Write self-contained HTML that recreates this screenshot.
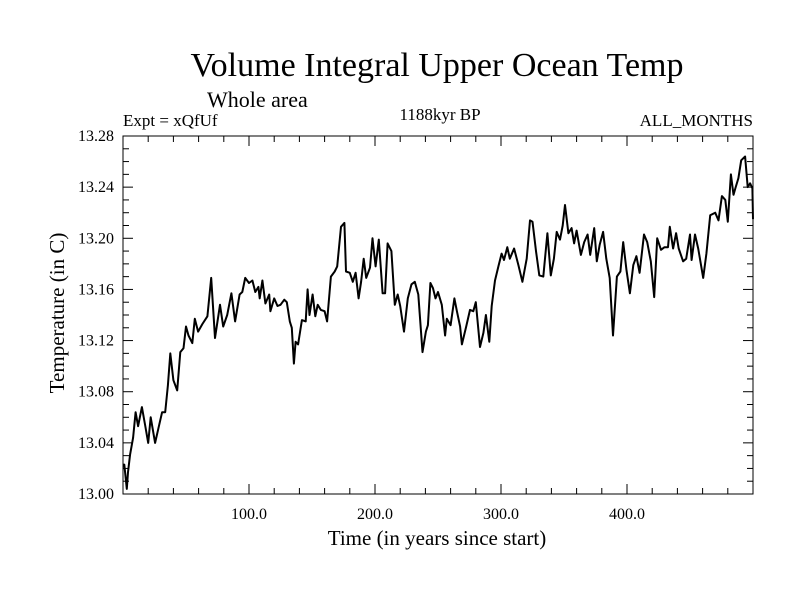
<!DOCTYPE html>
<html><head><meta charset="utf-8"><style>
body{margin:0;background:#fff;}
svg text{font-family:"Liberation Serif",serif;fill:#000;}
</style></head><body>
<svg width="800" height="600" viewBox="0 0 800 600">
<rect width="800" height="600" fill="#fff"/>
<text x="437" y="76" font-size="34" text-anchor="middle">Volume Integral Upper Ocean Temp</text>
<text x="207" y="107" font-size="22">Whole area</text>
<text x="123" y="126" font-size="17">Expt = xQfUf</text>
<text x="440" y="120" font-size="17" text-anchor="middle">1188kyr BP</text>
<text x="753" y="126" font-size="17" text-anchor="end">ALL_MONTHS</text>
<text transform="translate(64,313) rotate(-90)" font-size="21" text-anchor="middle">Temperature (in C)</text>
<text x="437" y="545" font-size="21" text-anchor="middle">Time (in years since start)</text>
<g id="axes"></g>
<path id="series" fill="none" stroke="#000" stroke-width="2" stroke-linejoin="round"/>
<rect x="123" y="136" width="630" height="358" fill="none" stroke="#000" stroke-width="1"/>
</svg>
<script>
const years=[0,1,3,4,5.6,8,10,12,15,17.5,20,22,25.5,28,31,33.5,35.6,37.5,40,43,45.5,48,50,52,55,57,59.6,63,67,70,73,77,79.5,82.7,86,89,92.5,94.7,97,100,102.7,105,107.5,108.5,110.6,113,116,117,120,122.6,125,128,130,132.4,134,135.6,137,139,142,145,146.5,148,150.5,152.6,154.5,157,160,162,165,168,170,173,175.7,177,180,182.4,184.6,187,189,191,193,196,198,200.5,203,206,208,210,213,215.7,218,220,223,226,229,231.6,234.4,237.7,240.4,242,244,246,248,250,253,255.6,257,260,263,265,267.5,269,272.4,275.4,278,280,283.3,286,288,290.7,292.6,295.2,297.9,300.5,302.4,305,307,310.4,313.8,317,320.4,323,325,327.8,330.4,333.6,336.8,339.5,342,344.2,346.8,349,350.8,353.5,356,358,360,363.4,366,368.7,370.8,374,376,378.3,381,383.6,386.3,388.9,392,394.8,397,399.6,402.3,405,407.5,410,413.5,416,418.9,421.6,424,427,429.8,432.5,434,436.6,439,441,444.5,447,450,451.3,454,456.5,460.5,463,466,470,472.6,475.3,478,480,482.5,484.5,486.3,488.4,490.6,493.7,495.8,497.7,499.5,500];
const temps=[13.023,13.023,13.004,13.017,13.031,13.044,13.064,13.053,13.068,13.054,13.040,13.060,13.040,13.051,13.064,13.064,13.085,13.110,13.089,13.081,13.111,13.114,13.131,13.124,13.118,13.137,13.127,13.133,13.139,13.169,13.122,13.148,13.131,13.140,13.157,13.135,13.156,13.158,13.169,13.165,13.167,13.158,13.162,13.153,13.167,13.149,13.156,13.143,13.153,13.147,13.148,13.152,13.150,13.135,13.130,13.102,13.119,13.117,13.136,13.135,13.160,13.140,13.156,13.139,13.148,13.144,13.143,13.135,13.170,13.174,13.178,13.209,13.212,13.174,13.173,13.166,13.173,13.153,13.166,13.184,13.169,13.177,13.200,13.178,13.199,13.157,13.157,13.196,13.190,13.148,13.156,13.147,13.127,13.153,13.164,13.166,13.156,13.111,13.127,13.132,13.165,13.161,13.153,13.158,13.148,13.124,13.137,13.132,13.153,13.143,13.131,13.117,13.131,13.144,13.143,13.150,13.115,13.126,13.140,13.119,13.147,13.167,13.178,13.188,13.183,13.193,13.184,13.192,13.179,13.166,13.184,13.214,13.213,13.190,13.171,13.170,13.204,13.171,13.184,13.205,13.199,13.210,13.226,13.204,13.208,13.196,13.206,13.187,13.197,13.203,13.187,13.208,13.182,13.195,13.205,13.184,13.169,13.124,13.170,13.174,13.197,13.175,13.157,13.179,13.186,13.173,13.203,13.197,13.182,13.154,13.200,13.191,13.193,13.193,13.209,13.192,13.204,13.192,13.182,13.184,13.203,13.183,13.203,13.192,13.169,13.188,13.218,13.220,13.214,13.233,13.230,13.213,13.250,13.234,13.240,13.247,13.261,13.264,13.240,13.243,13.239,13.215];
const xTickValues=[100,200,300,400];
const xTickLabels=["100.0","200.0","300.0","400.0"];
const yTickValues=[13.00,13.04,13.08,13.12,13.16,13.20,13.24,13.28];
const yTickLabels=["13.00","13.04","13.08","13.12","13.16","13.20","13.24","13.28"];

const X0=123,X1=753,Y0=494,Y1=136,XMIN=0,XMAX=500,YMIN=13.0,YMAX=13.28;
const xs=v=>X0+(v-XMIN)/(XMAX-XMIN)*(X1-X0);
const ys=v=>Y0-(v-YMIN)/(YMAX-YMIN)*(Y0-Y1);
const NS="http://www.w3.org/2000/svg";
const axes=document.getElementById('axes');
function line(x1,y1,x2,y2){const l=document.createElementNS(NS,'line');l.setAttribute('x1',x1);l.setAttribute('y1',y1);l.setAttribute('x2',x2);l.setAttribute('y2',y2);l.setAttribute('stroke','#000');l.setAttribute('stroke-width','1');axes.appendChild(l);return l;}
for(let v=20;v<XMAX;v+=20){const big=v%100===0;const L=big?10:6;
let a=line(xs(v),Y0,xs(v),Y0-L);
let b=line(xs(v),Y1,xs(v),Y1+L);}
for(let i=0;i<=28;i++){const v=YMIN+i*0.01;const big=i%4===0;const L=big?10:6;
let a=line(X0,ys(v),X0+L,ys(v));
let b=line(X1,ys(v),X1-L,ys(v));}
xTickValues.forEach((v,i)=>{const t=document.createElementNS(NS,'text');t.setAttribute('x',xs(v));t.setAttribute('y',519);t.setAttribute('font-size','16');t.setAttribute('text-anchor','middle');t.textContent=xTickLabels[i];


axes.appendChild(t);});
yTickValues.forEach((v,i)=>{const t=document.createElementNS(NS,'text');t.setAttribute('x',114);t.setAttribute('y',ys(v)+5);t.setAttribute('font-size','16');t.setAttribute('text-anchor','end');t.textContent=yTickLabels[i];


axes.appendChild(t);});
document.getElementById('series').setAttribute('d',years.map((y,i)=>(i?'L':'M')+xs(y).toFixed(1)+','+ys(temps[i]).toFixed(1)).join(''));
</script>
</body></html>
